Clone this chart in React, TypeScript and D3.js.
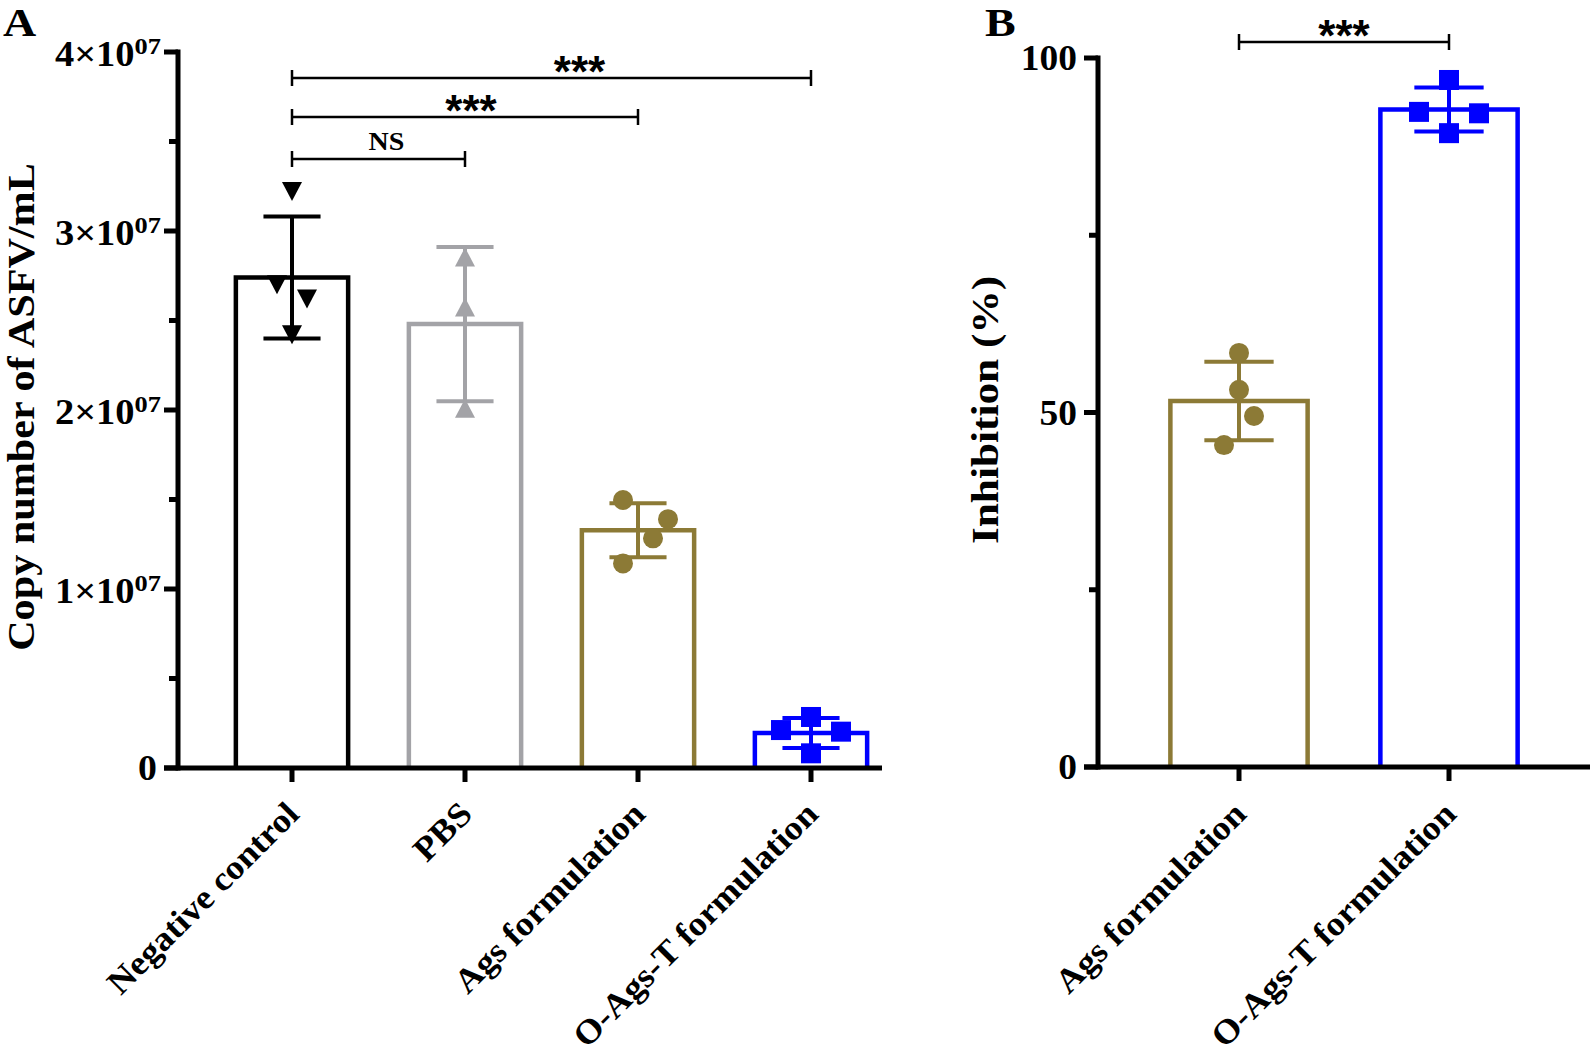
import React from 'react';
import * as d3 from 'd3';

// ---------------- data ----------------
const catsA = ['Negative control', 'PBS', 'Ags formulation', 'O-Ags-T formulation'];
const negControlA = [3.22e7, 2.70e7, 2.62e7, 2.42e7];
const pbsA = [2.855e7, 2.575e7, 2.01e7];
const agsA = [1.497e7, 1.39e7, 1.283e7, 1.143e7];
const oagsA = [0.285e7, 0.212e7, 0.203e7, 0.082e7];
const yMajorTicksA = [0, 1e7, 2e7, 3e7, 4e7];
const yMinorTicksA = [0.5e7, 1.5e7, 2.5e7, 3.5e7];
const yTickLabelsA = ['0', '1×10|07', '2×10|07', '3×10|07', '4×10|07'];
const sigA = [
  { from: 0, to: 1, label: 'NS' },
  { from: 0, to: 2, label: '***' },
  { from: 0, to: 3, label: '***' },
];

const catsB = ['Ags formulation', 'O-Ags-T formulation'];
const agsB = [58.4, 53.2, 49.5, 45.4];
const oagsB = [96.9, 92.4, 92.2, 89.4];
const yMajorTicksB = [0, 50, 100];
const yMinorTicksB = [25, 75];
const sigB = [{ from: 0, to: 1, label: '***' }];

// ---------------- style / layout ----------------
const BLACK = '#000000';
const GRAY = '#a3a3a7';
const OLIVE = '#8c7a36';
const BLUE = '#0000ff';
const SERIF = '"Liberation Serif", "Times New Roman", Times, serif';
const SANS = '"Liberation Sans", Arial, sans-serif';

type Marker = 'triDown' | 'triUp' | 'circle' | 'square';
// jitter in marker-width units (layout only)
const groupsA = [
  { values: negControlA, color: BLACK, marker: 'triDown' as Marker, jitter: [0, -0.75, 0.75, 0] },
  { values: pbsA, color: GRAY, marker: 'triUp' as Marker, jitter: [0, 0, 0] },
  { values: agsA, color: OLIVE, marker: 'circle' as Marker, jitter: [-0.75, 1.5, 0.75, -0.75] },
  { values: oagsA, color: BLUE, marker: 'square' as Marker, jitter: [0, -1.5, 1.5, 0] },
];
const groupsB = [
  { values: agsB, color: OLIVE, marker: 'circle' as Marker, jitter: [0, 0, 0.75, -0.75] },
  { values: oagsB, color: BLUE, marker: 'square' as Marker, jitter: [0, -1.5, 1.5, 0] },
];
// horizontal nudges of the significance labels (layout only)
const sigShiftA = [8, 6, 28];
const sigShiftB = [0];

const MS = 20; // marker size

function MarkerShape({ type, x, y, color }: { type: Marker; x: number; y: number; color: string }) {
  const h = MS / 2;
  if (type === 'circle') return <circle cx={x} cy={y} r={h} fill={color} />;
  if (type === 'square') return <rect x={x - h} y={y - h} width={MS} height={MS} fill={color} />;
  const p = d3.path();
  if (type === 'triDown') {
    p.moveTo(x - h, y - 9.5); p.lineTo(x + h, y - 9.5); p.lineTo(x, y + 9.5); p.closePath();
  } else {
    p.moveTo(x - h, y + 9.5); p.lineTo(x + h, y + 9.5); p.lineTo(x, y - 9.5); p.closePath();
  }
  return <path d={p.toString()} fill={color} />;
}

function SText({ x, y, rotate = 0, sx = 1, anchor = 'middle', size, family = SERIF, weight = 'bold', children }: any) {
  return (
    <g transform={`translate(${x},${y}) rotate(${rotate}) scale(${sx},1)`}>
      <text textAnchor={anchor} fontSize={size} fontFamily={family} fontWeight={weight} fill="#000">
        {children}
      </text>
    </g>
  );
}

export default function App() {
  const W = 1593, H = 1056;

  const xA = d3.scaleBand<string>().domain(catsA).range([205.5, 897.5]);
  const yA = d3.scaleLinear().domain([0, 4e7]).range([768, 52]);
  const axA = 178;
  const xB = d3.scaleBand<string>().domain(catsB).range([1134, 1554]);
  const yB = d3.scaleLinear().domain([0, 100]).range([767, 58]);
  const axB = 1098;

  const renderBars = (cats: string[], groups: any[], x: any, y: any) => {
    const step = x.step();
    const barW = step * 0.675;
    const capW = step * 0.33;
    return cats.map((c, i) => {
      const g = groups[i];
      const cx = x(c) + x.bandwidth() / 2;
      const m = d3.mean(g.values as number[]) as number;
      const sd = d3.deviation(g.values as number[]) as number;
      const yTop = y(m);
      const y0 = y(0);
      const l = cx - barW / 2 + 2.25, r = cx + barW / 2 - 2.25;
      return (
        <g key={c}>
          <path d={`M${l},${y0} L${l},${yTop} L${r},${yTop} L${r},${y0}`} fill="#fff" stroke={g.color} strokeWidth={4.5} />
          <line x1={cx} x2={cx} y1={y(m + sd)} y2={y(m - sd)} stroke={g.color} strokeWidth={4} />
          <line x1={cx - capW / 2} x2={cx + capW / 2} y1={y(m + sd)} y2={y(m + sd)} stroke={g.color} strokeWidth={4} />
          <line x1={cx - capW / 2} x2={cx + capW / 2} y1={y(m - sd)} y2={y(m - sd)} stroke={g.color} strokeWidth={4} />
          {(g.values as number[]).map((v, j) => (
            <MarkerShape key={j} type={g.marker} x={cx + g.jitter[j] * MS} y={y(v)} color={g.color} />
          ))}
        </g>
      );
    });
  };

  const renderSig = (cats: string[], x: any, sig: any[], ys: number[], shifts: number[]) =>
    sig.map((s, i) => {
      const x1 = x(cats[s.from]) + x.bandwidth() / 2;
      const x2 = x(cats[s.to]) + x.bandwidth() / 2;
      const yy = ys[i];
      const mid = (x1 + x2) / 2 + shifts[i];
      return (
        <g key={i}>
          <line x1={x1} x2={x2} y1={yy} y2={yy} stroke="#000" strokeWidth={2.5} />
          <line x1={x1} x2={x1} y1={yy - 8} y2={yy + 8} stroke="#000" strokeWidth={2.5} />
          <line x1={x2} x2={x2} y1={yy - 8} y2={yy + 8} stroke="#000" strokeWidth={2.5} />
          {s.label === 'NS' ? (
            <SText x={mid} y={yy - 9} size={25} sx={1.12}>NS</SText>
          ) : (
            <SText x={mid} y={yy + 9} size={44} family={SANS} weight="bold">***</SText>
          )}
        </g>
      );
    });

  const catLabel = (c: string, cx: number) => (
    <g key={c}>
      <SText x={cx + 9} y={816} rotate={-45} anchor="end" size={34} sx={1.07}>{c}</SText>
    </g>
  );

  return (
    <svg width={W} height={H} style={{ position: 'absolute', left: 0, top: 0, background: '#fff' }}>
      <rect x={0} y={0} width={W} height={H} fill="#fff" />
      {/* ===== Panel A ===== */}
      <SText x={3} y={36} anchor="start" size={40} sx={1.15}>A</SText>
      {renderBars(catsA, groupsA, xA, yA)}
      <line x1={axA} x2={axA} y1={yA(0) + 2.5} y2={yA(4e7) - 2.5} stroke="#000" strokeWidth={5} />
      <line x1={axA - 14} x2={882} y1={yA(0)} y2={yA(0)} stroke="#000" strokeWidth={5} />
      {yMajorTicksA.map((t) => (
        <line key={t} x1={axA - 14} x2={axA} y1={yA(t)} y2={yA(t)} stroke="#000" strokeWidth={5} />
      ))}
      {yMinorTicksA.map((t) => (
        <line key={t} x1={axA - 9} x2={axA} y1={yA(t)} y2={yA(t)} stroke="#000" strokeWidth={5} />
      ))}
      {yMajorTicksA.map((t, i) => {
        const [base, sup] = yTickLabelsA[i].split('|');
        return sup ? (
          <SText key={t} x={161} y={yA(t) + 14} anchor="end" size={35} sx={1.1}>
            <tspan>{base}</tspan>
            <tspan fontSize={24} dy={-12}>{sup}</tspan>
          </SText>
        ) : (
          <SText key={t} x={157} y={yA(t) + 12} anchor="end" size={35} sx={1.08}>{base}</SText>
        );
      })}
      {catsA.map((c) => {
        const cx = (xA(c) as number) + xA.bandwidth() / 2;
        return (
          <g key={c}>
            <line x1={cx} x2={cx} y1={yA(0)} y2={yA(0) + 14} stroke="#000" strokeWidth={5} />
            {catLabel(c, cx)}
          </g>
        );
      })}
      <SText x={34} y={407} rotate={-90} size={37} sx={1.14}>Copy number of ASFV/mL</SText>
      {renderSig(catsA, xA, sigA, [159, 117, 78], sigShiftA)}

      {/* ===== Panel B ===== */}
      <SText x={985} y={36} anchor="start" size={40} sx={1.15}>B</SText>
      {renderBars(catsB, groupsB, xB, yB)}
      <line x1={axB} x2={axB} y1={yB(0) + 2.5} y2={yB(100) - 2.5} stroke="#000" strokeWidth={5} />
      <line x1={axB - 14} x2={1590} y1={yB(0)} y2={yB(0)} stroke="#000" strokeWidth={5} />
      {yMajorTicksB.map((t) => (
        <line key={t} x1={axB - 14} x2={axB} y1={yB(t)} y2={yB(t)} stroke="#000" strokeWidth={5} />
      ))}
      {yMinorTicksB.map((t) => (
        <line key={t} x1={axB - 9} x2={axB} y1={yB(t)} y2={yB(t)} stroke="#000" strokeWidth={5} />
      ))}
      {yMajorTicksB.map((t) => (
        <SText key={t} x={1077} y={yB(t) + 12} anchor="end" size={36} sx={1.04}>{String(t)}</SText>
      ))}
      {catsB.map((c) => {
        const cx = (xB(c) as number) + xB.bandwidth() / 2;
        return (
          <g key={c}>
            <line x1={cx} x2={cx} y1={yB(0)} y2={yB(0) + 14} stroke="#000" strokeWidth={5} />
            {catLabel(c, cx)}
          </g>
        );
      })}
      <SText x={998} y={410} rotate={-90} size={37} sx={1.17}>Inhibition (%)</SText>
      {renderSig(catsB, xB, sigB, [42], sigShiftB)}
    </svg>
  );
}
